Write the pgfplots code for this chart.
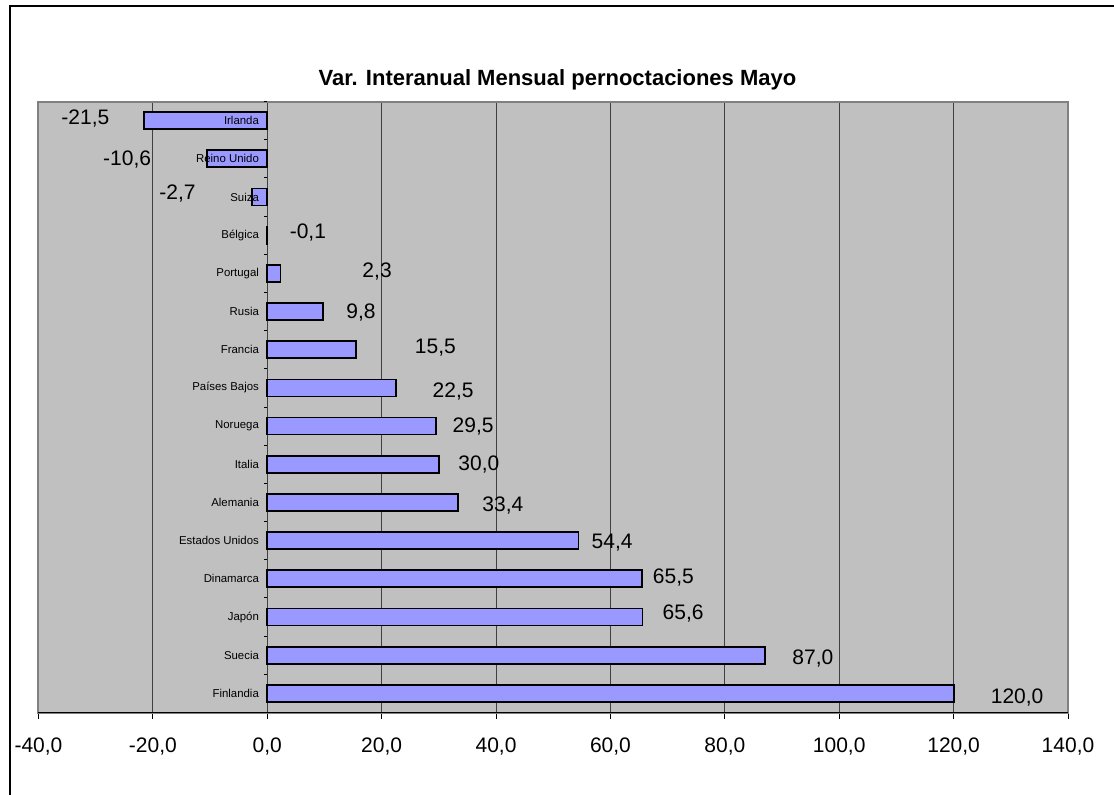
\documentclass[border=0pt]{standalone}
\usepackage{pgfplots}
\pgfplotsset{compat=1.18}
\usepackage{pgfplotstable}
\usepackage{fontspec}
\setmainfont{Liberation Sans}
\definecolor{barfill}{HTML}{9999FF}
\definecolor{plotbg}{HTML}{C0C0C0}
\definecolor{plotedge}{HTML}{808080}

% pais; valor; posicion; etiqueta x; etiqueta y; etiqueta
\pgfplotstableread[col sep=semicolon]{
pais;valor;pos;lx;ly;lab
Irlanda;-21.5;15;-31.8;15.05;-21,5
Reino Unido;-10.6;14;-24.5;13.97;-10,6
Suiza;-2.7;13;-15.7;13.08;-2,7
Bélgica;-0.1;12;7.1;12.06;-0,1
Portugal;2.3;11;19.2;11.06;2,3
Rusia;9.8;10;16.4;9.98;9,8
Francia;15.5;9;29.4;9.06;15,5
Países Bajos;22.5;8;32.5;7.91;22,5
Noruega;29.5;7;36.0;6.99;29,5
Italia;30.0;6;37.0;6.0;30,0
Alemania;33.4;5;41.2;4.92;33,4
Estados Unidos;54.4;4;60.3;3.95;54,4
Dinamarca;65.5;3;71.0;3.04;65,5
Japón;65.6;2;72.7;2.09;65,6
Suecia;87.0;1;95.4;0.92;87,0
Finlandia;120.0;0;131.1;-0.11;120,0
}\datos

\begin{document}
\begin{tikzpicture}
\useasboundingbox (-19.25pt,-40.75pt) rectangle (537.75pt,356.25pt);
\draw[line width=1pt] (-14.25pt,-41pt) -- (-14.25pt,353.25pt) -- (538pt,353.25pt);
\begin{axis}[
  at={(0,0)}, anchor=south west,
  scale only axis, width=514.75pt, height=305.5pt,
  xmin=-40, xmax=140, ymin=-0.5, ymax=15.5,
  xtick={-40,-20,...,140}, ytick=\empty,
  xmajorgrids, grid style={black!75, line width=0.5pt},
  axis background/.style={fill=plotbg},
  axis line style={plotedge, line width=1pt},
  tick style={black, line width=0.5pt}, major tick length=3pt,
  xtick align=outside, xtick pos=bottom,
  xticklabel style={font=\fontsize{10.5}{12}\selectfont, yshift=-6pt,
    /pgf/number format/.cd, fixed, fixed zerofill, precision=1, use comma,
    assume math mode=true},
  clip=false,
]
\addplot[xbar, bar width=8.5pt, fill=barfill, draw=black, line width=0.9pt]
  table[x=valor, y=pos] {\datos};
% marcas de categoria sobre el eje en 0
\addplot[draw=none, mark=-, mark size=0.75pt, mark options={xshift=-0.75pt, line width=0.5pt, black}]
  table[x expr=0, y expr=\thisrow{pos}+0.5] {\datos};
% nombres de paises
\addplot[draw=none, mark=none, nodes near coords, point meta=explicit symbolic,
  nodes near coords style={anchor=east, xshift=-4pt, inner sep=0pt,
    font=\fontsize{5.7}{7}\selectfont}]
  table[x expr=0, y=pos, meta=pais] {\datos};
% etiquetas de valor
\addplot[draw=none, mark=none, nodes near coords, point meta=explicit symbolic,
  nodes near coords style={anchor=center, inner sep=0pt,
    font=\fontsize{10.5}{12}\selectfont}]
  table[x=lx, y=ly, meta=lab] {\datos};
\draw[black, line width=0.5pt] (rel axis cs:0,0) -- (rel axis cs:1,0);
\end{axis}
\node[font=\bfseries\fontsize{11}{13}\selectfont] at (259.5pt,316.5pt)
  {Var. Interanual Mensual pernoctaciones Mayo};
\end{tikzpicture}
\end{document}
